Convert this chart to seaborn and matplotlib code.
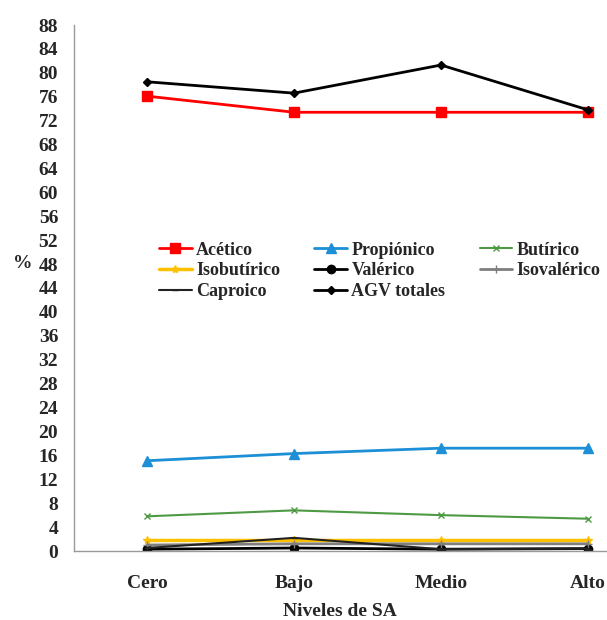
import numpy as np
import pandas as pd
import matplotlib
matplotlib.use("Agg")
import matplotlib.pyplot as plt
import seaborn as sns

categories = ["Cero", "Bajo", "Medio", "Alto"]
acetico = [76.1, 73.4, 73.4, 73.4]
propionico = [15.1, 16.3, 17.2, 17.2]
butirico = [5.8, 6.8, 6.0, 5.4]
isobutirico = [1.8, 1.8, 1.8, 1.8]
valerico = [0.3, 0.5, 0.3, 0.4]
isovalerico = [1.0, 1.2, 1.2, 1.2]
caproico = [0.5, 2.2, 0.3, 0.4]
agv_totales = [78.5, 76.6, 81.3, 73.8]

series_names = ["Acético", "Propiónico", "Butírico", "Isobutírico",
                "Valérico", "Isovalérico", "Caproico", "AGV totales"]
series_vals = [acetico, propionico, butirico, isobutirico,
               valerico, isovalerico, caproico, agv_totales]
colors = ["#FF0000", "#1C8FD6", "#4E9A44", "#FFC000",
          "#000000", "#7F7F7F", "#222222", "#000000"]
markers = ["s", "^", "x", "*", "o", "+", "_", "D"]
msizes = [6.5, 6.5, 5, 6, 6, 6, 5, 4.5]
lwidths = [2.0, 2.0, 1.5, 2.5, 2.0, 2.0, 1.5, 2.0]

sns.set_style("white")
plt.rcParams["font.family"] = ["Liberation Serif", "DejaVu Serif"]
plt.rcParams["font.weight"] = "bold"

fig = plt.figure(figsize=(6.07, 6.2), dpi=100)
ax = fig.add_axes([73.5 / 607, 1 - 551 / 620, 1 - 73.5 / 607, (551 - 25) / 620])

xpos = np.arange(len(categories))
for name, vals, c, m, ms, lw in zip(series_names, series_vals, colors, markers, msizes, lwidths):
    df = pd.DataFrame({"x": xpos, "y": vals})
    sns.lineplot(data=df, x="x", y="y", ax=ax, color=c, marker=m, markersize=ms,
                 linewidth=lw, label=name, markeredgecolor=c, markeredgewidth=1.0)

ax.set_xlim(-0.5, (607 - 73.5) / 147 - 0.5)
ax.set_ylim(0, 88)
ax.set_yticks(np.arange(0, 89, 4))
ax.set_yticklabels([str(v) for v in range(0, 89, 4)], fontsize=14, fontweight="bold")
ax.set_xticks(xpos)
ax.set_xticklabels(categories, fontsize=14, fontweight="bold")
ax.set_xticks([0.5, 1.5, 2.5], minor=True)
ax.tick_params(axis="x", which="major", length=0, pad=17)
ax.tick_params(axis="x", which="minor", length=5, direction="out", color="#999999")
ax.tick_params(axis="y", length=5, direction="out", color="#999999", pad=6)

for s in ["top", "right"]:
    ax.spines[s].set_visible(False)
for s in ["left", "bottom"]:
    ax.spines[s].set_color("#999999")
    ax.spines[s].set_linewidth(1.0)

ax.set_xlabel("Niveles de SA", fontsize=14, fontweight="bold", labelpad=8)
ax.set_ylabel("%", fontsize=14, fontweight="bold", rotation=0)
ax.yaxis.set_label_coords(-0.095, 0.53)

handles, labels = ax.get_legend_handles_labels()
order = [0, 3, 6, 1, 4, 7, 2, 5]
leg = ax.legend([handles[i] for i in order], [labels[i] for i in order],
                ncol=3, loc="upper left", bbox_to_anchor=(0.13, 0.619), frameon=False,
                prop={"size": 13, "weight": "bold"}, handlelength=1.8,
                columnspacing=1.9, labelspacing=0.2, handletextpad=0.25)

fig.savefig("out.png", dpi=100)
